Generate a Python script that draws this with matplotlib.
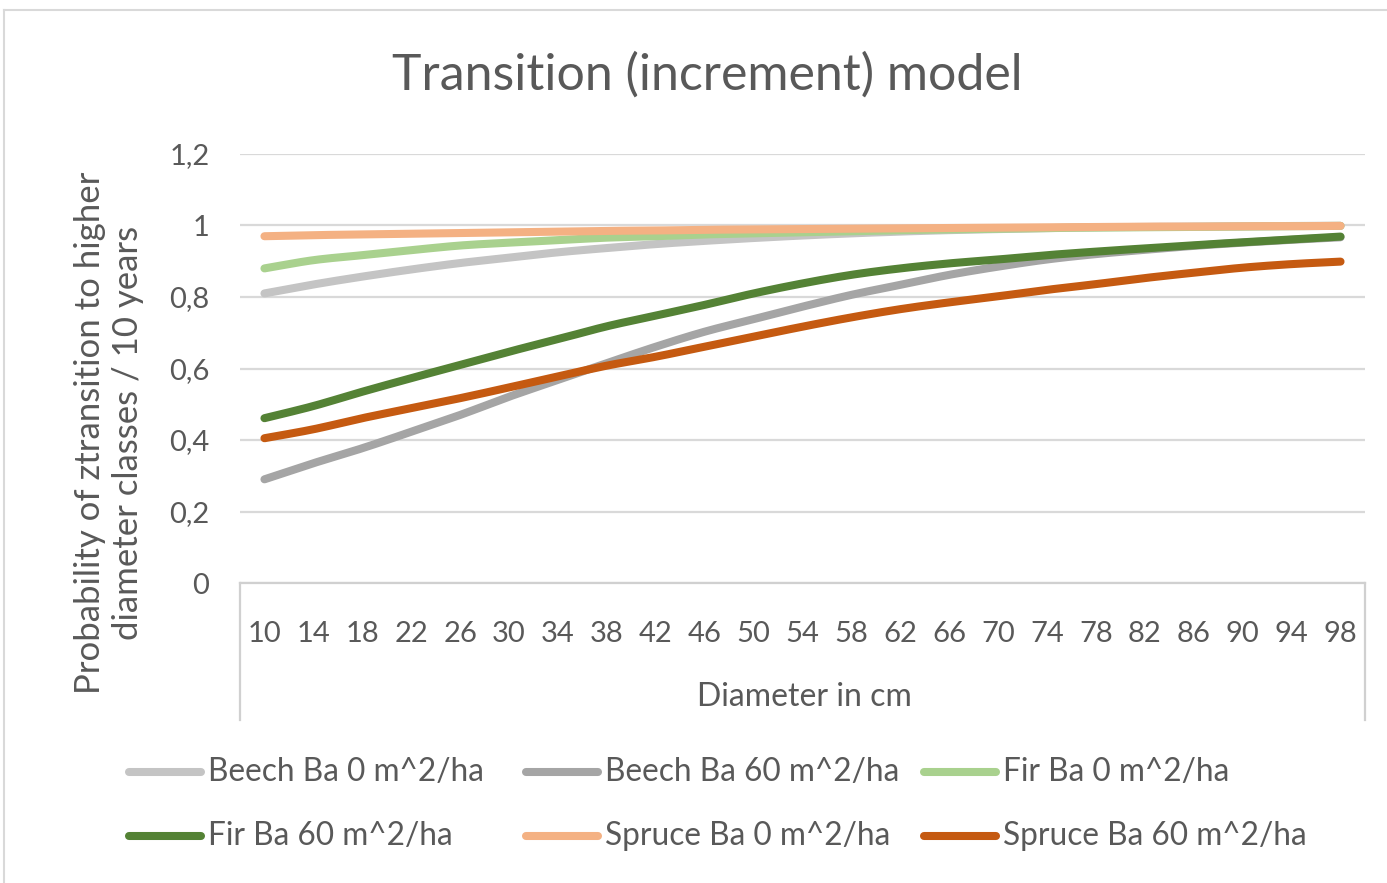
import numpy as np
import matplotlib
matplotlib.use("Agg")
import matplotlib.pyplot as plt
from matplotlib.lines import Line2D

plt.rcParams['font.family'] = ['Lato', 'DejaVu Sans']

# Diameter classes (cm)
diameters = [10, 14, 18, 22, 26, 30, 34, 38, 42, 46, 50, 54,
             58, 62, 66, 70, 74, 78, 82, 86, 90, 94, 98]

beech_0 = [0.810, 0.835, 0.857, 0.877, 0.895, 0.910, 0.925, 0.937, 0.948, 0.957,
           0.965, 0.972, 0.978, 0.983, 0.987, 0.990, 0.993, 0.995, 0.996, 0.997,
           0.998, 0.999, 0.999]
beech_60 = [0.290, 0.335, 0.377, 0.423, 0.470, 0.521, 0.568, 0.615, 0.661, 0.703,
            0.738, 0.773, 0.806, 0.834, 0.862, 0.885, 0.905, 0.920, 0.932, 0.943,
            0.952, 0.960, 0.967]
fir_0 = [0.880, 0.903, 0.917, 0.931, 0.944, 0.952, 0.959, 0.966, 0.970, 0.975,
         0.978, 0.981, 0.984, 0.987, 0.989, 0.991, 0.993, 0.994, 0.995, 0.996,
         0.997, 0.998, 0.999]
fir_60 = [0.461, 0.495, 0.535, 0.573, 0.610, 0.647, 0.682, 0.718, 0.748, 0.778,
          0.810, 0.838, 0.862, 0.880, 0.894, 0.905, 0.917, 0.927, 0.936, 0.945,
          0.953, 0.961, 0.969]
spruce_0 = [0.970, 0.973, 0.975, 0.977, 0.979, 0.981, 0.983, 0.985, 0.986, 0.988,
            0.989, 0.990, 0.991, 0.992, 0.993, 0.994, 0.995, 0.996, 0.997, 0.997,
            0.998, 0.998, 0.999]
spruce_60 = [0.405, 0.430, 0.461, 0.489, 0.517, 0.547, 0.578, 0.608, 0.633, 0.661,
             0.689, 0.717, 0.743, 0.766, 0.785, 0.802, 0.820, 0.836, 0.853, 0.868,
             0.882, 0.892, 0.899]

series_labels = ["Beech Ba 0 m^2/ha", "Beech Ba 60 m^2/ha", "Fir Ba 0 m^2/ha",
                 "Fir Ba 60 m^2/ha", "Spruce Ba 0 m^2/ha", "Spruce Ba 60 m^2/ha"]
series_values = [beech_0, beech_60, fir_0, fir_60, spruce_0, spruce_60]
series_colors = ["#C4C4C4", "#A5A5A5", "#A9D18E", "#548235", "#F4B183", "#C55A11"]

title_text = "Transition (increment) model"
y_title = "Probability of ztransition to higher\ndiameter classes / 10 years"
x_title = "Diameter in cm"
y_ticks = [0, 0.2, 0.4, 0.6, 0.8, 1.0, 1.2]
y_tick_labels = ["0", "0,2", "0,4", "0,6", "0,8", "1", "1,2"]

TEXT = "#595959"
GRID = "#D9D9D9"
W, H = 1387, 883


def smooth(x, y, n=16):
    """Catmull-Rom smoothing through the given points."""
    x = np.asarray(x, float)
    y = np.asarray(y, float)
    px = np.concatenate([[2 * x[0] - x[1]], x, [2 * x[-1] - x[-2]]])
    py = np.concatenate([[2 * y[0] - y[1]], y, [2 * y[-1] - y[-2]]])
    t = np.linspace(0, 1, n, endpoint=False)
    xs, ys = [], []
    for i in range(1, len(px) - 2):
        for arr, out in ((px, xs), (py, ys)):
            p0, p1, p2, p3 = arr[i - 1], arr[i], arr[i + 1], arr[i + 2]
            out.append(0.5 * ((2 * p1) + (-p0 + p2) * t
                              + (2 * p0 - 5 * p1 + 4 * p2 - p3) * t ** 2
                              + (-p0 + 3 * p1 - 3 * p2 + p3) * t ** 3))
    xs.append([x[-1]])
    ys.append([y[-1]])
    return np.concatenate(xs), np.concatenate(ys)


def fx(px):
    return px / W


def fy(py):
    return 1 - py / H


fig = plt.figure(figsize=(W / 100, H / 100), dpi=100)

# Chart border
fig.add_artist(Line2D([fx(4), fx(4)], [fy(10), fy(H + 5)], color=GRID, lw=1.5))
fig.add_artist(Line2D([fx(4), fx(W + 5)], [fy(10), fy(10)], color=GRID, lw=1.5))

left, right, top, bottom = 240, 1365, 154, 583
ax = fig.add_axes([fx(left), fy(bottom), (right - left) / W, (bottom - top) / H])

idx = np.arange(len(diameters))
for vals, col in zip(series_values, series_colors):
    sx, sy = smooth(idx, vals)
    ax.plot(sx, sy, color=col, lw=5.8, solid_capstyle='round', zorder=3)

ax.set_xlim(-0.5, len(diameters) - 0.5)
ax.set_ylim(0, 1.2)
ax.set_yticks(y_ticks)
ax.set_yticklabels(y_tick_labels)
ax.set_xticks(idx)
ax.set_xticklabels([str(d) for d in diameters])
ax.tick_params(axis='y', length=0, pad=22, labelsize=21, labelcolor=TEXT)
ax.tick_params(axis='x', length=0, pad=27, labelsize=21, labelcolor=TEXT)
ax.grid(axis='y', color=GRID, lw=1.6, zorder=0)
for s in ax.spines.values():
    s.set_visible(False)
ax.set_facecolor('none')

# Category axis frame
axis_col = "#D0D0D0"
fig.add_artist(Line2D([fx(left), fx(right)], [fy(bottom), fy(bottom)], color=axis_col, lw=1.6))
fig.add_artist(Line2D([fx(left), fx(left)], [fy(bottom), fy(720)], color=axis_col, lw=1.6))
fig.add_artist(Line2D([fx(right), fx(right)], [fy(bottom), fy(720)], color=axis_col, lw=1.6))

fig.text(fx(707), fy(75), title_text, ha='center', va='center', fontsize=36,
         color=TEXT, fontweight='normal')
fig.text(fx(804), fy(697), x_title, ha='center', va='center', fontsize=23, color=TEXT)
fig.text(fx(109), fy(433), y_title, ha='center', va='center', fontsize=25,
         color=TEXT, rotation=90, linespacing=1.2)

# Legend: two rows of three entries
leg_x = [125, 522, 920]
leg_y = [772, 836]
for k, (lab, col) in enumerate(zip(series_labels, series_colors)):
    r, c = divmod(k, 3)
    x0 = leg_x[c]
    y0 = leg_y[r]
    fig.add_artist(Line2D([fx(x0 + 4), fx(x0 + 76)], [fy(y0), fy(y0)], color=col,
                          lw=5.8, solid_capstyle='round'))
    fig.text(fx(x0 + 83), fy(y0), lab, ha='left', va='center', fontsize=22.8, color=TEXT)

fig.savefig("out.png", dpi=100, facecolor='white')
